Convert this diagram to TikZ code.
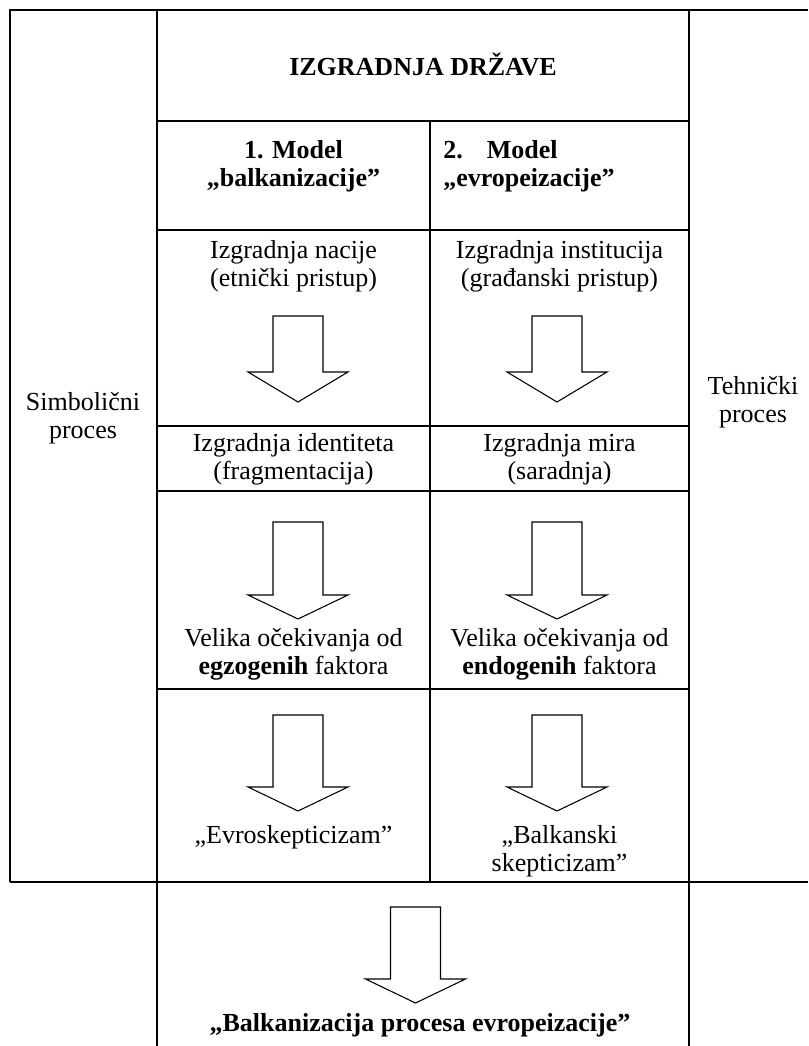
\documentclass[tikz,border=0pt]{standalone}
\usepackage{fontspec}
\setmainfont{Liberation Serif}
\newcommand{\blockarrow}[4]{% centre x, shaft top, head base, tip
  \draw[blk] (#1-25,#2) -- (#1+25,#2) -- (#1+25,#3) -- (#1+50,#3) -- (#1,#4)
    -- (#1-50,#3) -- (#1-25,#3) -- cycle;}
\begin{document}
\begin{tikzpicture}[x=0.75pt,y=-0.75pt,
  grid/.style={line width=1.2pt},
  blk/.style={line width=0.8pt, line join=miter},
  txt/.style={font=\fontsize{19.5}{20.8}\selectfont, align=center, inner sep=0pt, anchor=north},
  btxt/.style={txt, font=\fontsize{19.5}{20.8}\selectfont\bfseries}]
\useasboundingbox (0,0) rectangle (808,1046);
% table lines
\draw[grid] (10,882) -- (10,10) -- (808,10);
\draw[grid] (157,10) -- (157,1046);
\draw[grid] (689,10) -- (689,1046);
\draw[grid] (10,882) -- (808,882);
\draw[grid] (157,121) -- (689,121);
\draw[grid] (157,230) -- (689,230);
\draw[grid] (430,121) -- (430,882);
\draw[grid] (157,426) -- (689,426);
\draw[grid] (157,491) -- (689,491);
\draw[grid] (157,689) -- (689,689);
% texts
\node (hdr) [btxt, anchor=base] at (423,75) {IZGRADNJA DRŽAVE};
\node (m1) [btxt] at (293.5,139) {\strut 1. Model\\„balkanizacije”};
\node (m2) [btxt, align=left, anchor=north west] at (443,139) {\strut 2.\hspace{18pt}Model\\„evropeizacije”};
\node (r1c1) [txt] at (293.5,239) {\strut Izgradnja nacije\\(etnički pristup)};
\node (r1c2) [txt] at (559.5,239) {\strut Izgradnja institucija\\(građanski pristup)};
\node (r2c1) [txt] at (293.5,432) {\strut Izgradnja identiteta\\(fragmentacija)};
\node (r2c2) [txt] at (559.5,432) {\strut Izgradnja mira\\(saradnja)};
\node (r3c1) [txt] at (293.5,627) {\strut Velika očekivanja od\\\textbf{egzogenih} faktora};
\node (r3c2) [txt] at (559.5,627) {\strut Velika očekivanja od\\\textbf{endogenih} faktora};
\node (r4c1) [txt] at (293.5,824) {\strut „Evroskepticizam”};
\node (r4c2) [txt] at (559.5,824) {\strut „Balkanski\\skepticizam”};
\node (res) [btxt] at (420,1012) {\strut „Balkanizacija procesa evropeizacije”};
\node (simb) [txt] at (83,391) {\strut Simbolični\\proces};
\node (teh) [txt] at (753,375) {\strut Tehnički\\proces};
% block arrows
\blockarrow{298}{316}{372}{402}
\blockarrow{557}{316}{372}{402}
\blockarrow{298}{522}{595}{619}
\blockarrow{557}{522}{595}{619}
\blockarrow{298}{715}{787}{811}
\blockarrow{557}{715}{787}{811}
\blockarrow{415.5}{907}{979}{1003}
\end{tikzpicture}
\end{document}
